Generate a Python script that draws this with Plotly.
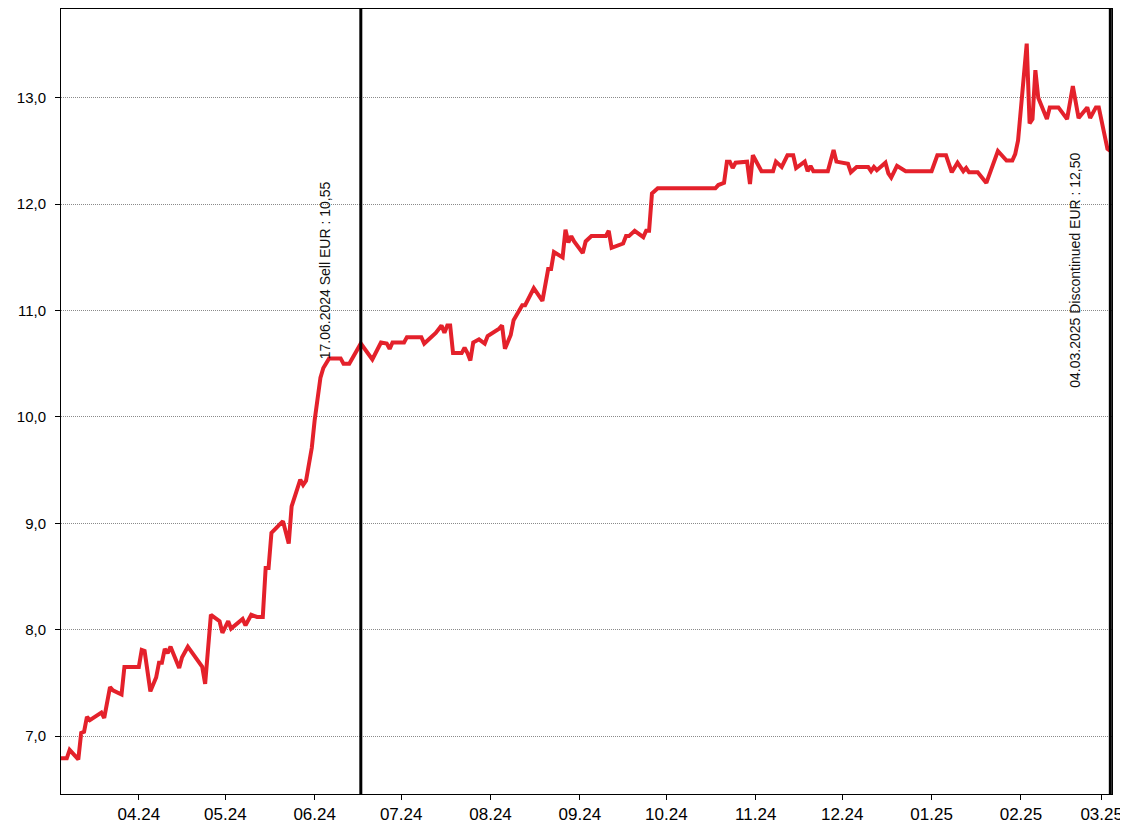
import plotly.graph_objects as go

dates = [
    "2024-03-05", "2024-03-07", "2024-03-08", "2024-03-09", "2024-03-11", "2024-03-12", "2024-03-13",
    "2024-03-14", "2024-03-15", "2024-03-19", "2024-03-20", "2024-03-22", "2024-03-23", "2024-03-26",
    "2024-03-27", "2024-04-01", "2024-04-02", "2024-04-03", "2024-04-05", "2024-04-07", "2024-04-08",
    "2024-04-09", "2024-04-10", "2024-04-11", "2024-04-12", "2024-04-15", "2024-04-16", "2024-04-18",
    "2024-04-23", "2024-04-24", "2024-04-26", "2024-04-29", "2024-04-30", "2024-05-02", "2024-05-03",
    "2024-05-07", "2024-05-08", "2024-05-10", "2024-05-12", "2024-05-14", "2024-05-15", "2024-05-16",
    "2024-05-17", "2024-05-21", "2024-05-23", "2024-05-24", "2024-05-26", "2024-05-27", "2024-05-28",
    "2024-05-29", "2024-05-31", "2024-06-01", "2024-06-03", "2024-06-04", "2024-06-06", "2024-06-10",
    "2024-06-11", "2024-06-13", "2024-06-17", "2024-06-18", "2024-06-21", "2024-06-24", "2024-06-26",
    "2024-06-27", "2024-06-28", "2024-07-02", "2024-07-03", "2024-07-08", "2024-07-09", "2024-07-11",
    "2024-07-13", "2024-07-15", "2024-07-16", "2024-07-17", "2024-07-18", "2024-07-19", "2024-07-22",
    "2024-07-23", "2024-07-24", "2024-07-25", "2024-07-26", "2024-07-28", "2024-07-30", "2024-07-31",
    "2024-08-02", "2024-08-04", "2024-08-05", "2024-08-06", "2024-08-08", "2024-08-09", "2024-08-12",
    "2024-08-13", "2024-08-16", "2024-08-19", "2024-08-21", "2024-08-22", "2024-08-23", "2024-08-26",
    "2024-08-27", "2024-08-28", "2024-08-29", "2024-08-30", "2024-09-02", "2024-09-03", "2024-09-05",
    "2024-09-10", "2024-09-11", "2024-09-12", "2024-09-16", "2024-09-17", "2024-09-18", "2024-09-20",
    "2024-09-23", "2024-09-24", "2024-09-25", "2024-09-26", "2024-09-28", "2024-10-18", "2024-10-19",
    "2024-10-21", "2024-10-22", "2024-10-23", "2024-10-24", "2024-10-25", "2024-10-29", "2024-10-30",
    "2024-10-31", "2024-11-03", "2024-11-07", "2024-11-08", "2024-11-10", "2024-11-12", "2024-11-14",
    "2024-11-15", "2024-11-18", "2024-11-19", "2024-11-20", "2024-11-21", "2024-11-26", "2024-11-28",
    "2024-11-29", "2024-12-03", "2024-12-04", "2024-12-06", "2024-12-10", "2024-12-11", "2024-12-12",
    "2024-12-13", "2024-12-16", "2024-12-17", "2024-12-18", "2024-12-20", "2024-12-23", "2025-01-01",
    "2025-01-03", "2025-01-06", "2025-01-08", "2025-01-10", "2025-01-12", "2025-01-13", "2025-01-14",
    "2025-01-17", "2025-01-20", "2025-01-24", "2025-01-27", "2025-01-29", "2025-01-30", "2025-01-31",
    "2025-02-03", "2025-02-04", "2025-02-05", "2025-02-06", "2025-02-07", "2025-02-10", "2025-02-11",
    "2025-02-14", "2025-02-17", "2025-02-19", "2025-02-21", "2025-02-24", "2025-02-25", "2025-02-27",
    "2025-02-28", "2025-03-03", "2025-03-04",
]

prices = [
    6.79, 6.79, 6.87, 6.84, 6.78, 7.03, 7.04,
    7.18, 7.15, 7.22, 7.17, 7.46, 7.43, 7.39,
    7.65, 7.65, 7.81, 7.80, 7.42, 7.55, 7.69,
    7.69, 7.82, 7.78, 7.84, 7.64, 7.74, 7.84,
    7.65, 7.49, 8.14, 8.08, 7.97, 8.08, 8.01,
    8.10, 8.04, 8.14, 8.12, 8.12, 8.58, 8.58,
    8.91, 9.02, 8.81, 9.16, 9.31, 9.41, 9.36,
    9.40, 9.71, 9.97, 10.37, 10.46, 10.55, 10.55,
    10.50, 10.50, 10.69, 10.65, 10.54, 10.70, 10.69,
    10.64, 10.70, 10.70, 10.75, 10.75, 10.69, 10.74,
    10.79, 10.86, 10.79, 10.86, 10.86, 10.60, 10.60,
    10.65, 10.60, 10.53, 10.70, 10.73, 10.69, 10.76,
    10.79, 10.83, 10.86, 10.64, 10.77, 10.91, 11.05,
    11.05, 11.21, 11.09, 11.39, 11.39, 11.55, 11.50,
    11.76, 11.64, 11.70, 11.65, 11.54, 11.65, 11.70,
    11.70, 11.75, 11.59, 11.63, 11.70, 11.70, 11.75,
    11.69, 11.75, 11.75, 12.10, 12.15, 12.15, 12.18,
    12.20, 12.40, 12.40, 12.34, 12.39, 12.40, 12.19,
    12.46, 12.31, 12.31, 12.40, 12.35, 12.46, 12.46,
    12.34, 12.40, 12.31, 12.36, 12.31, 12.31, 12.51,
    12.40, 12.38, 12.30, 12.35, 12.35, 12.31, 12.35,
    12.32, 12.39, 12.29, 12.25, 12.36, 12.31, 12.31,
    12.46, 12.46, 12.30, 12.39, 12.31, 12.34, 12.30,
    12.30, 12.20, 12.50, 12.41, 12.41, 12.47, 12.60,
    13.51, 12.76, 12.80, 13.26, 13.00, 12.80, 12.91,
    12.91, 12.80, 13.11, 12.81, 12.91, 12.81, 12.91,
    12.91, 12.52, 12.50,
]

tick_dates = ["2024-04-01", "2024-05-01", "2024-06-01", "2024-07-01", "2024-08-01", "2024-09-01",
              "2024-10-01", "2024-11-01", "2024-12-01", "2025-01-01", "2025-02-01", "2025-03-01"]
y_ticks = [7, 8, 9, 10, 11, 12, 13]

events = [
    ("2024-06-17", "17.06.2024 Sell EUR : 10,55"),
    ("2025-03-04", "04.03.2025 Discontinued EUR : 12,50"),
]

FONT = "Liberation Sans, Arial, sans-serif"

fig = go.Figure()
fig.add_trace(go.Scatter(
    x=dates, y=prices, mode="lines",
    line=dict(color="#E4212B", width=4),
    hoverinfo="x+y", showlegend=False,
))

for d, label in events:
    fig.add_shape(type="line", x0=d, x1=d, xref="x", y0=0, y1=1, yref="paper",
                  line=dict(color="black", width=3))
    fig.add_annotation(x=d, xref="x", y=0.667, yref="paper", text=label, textangle=-90,
                       showarrow=False, xshift=-35, xanchor="center", yanchor="middle",
                       font=dict(family=FONT, size=14, color="#111111"))

fig.update_layout(
    width=1120, height=819,
    margin=dict(l=53, r=16, t=1, b=33),
    paper_bgcolor="white", plot_bgcolor="white",
    separators=",.",
    font=dict(family=FONT, color="black"),
    xaxis=dict(
        range=["2024-03-05", "2025-03-04 14:00"],
        tickvals=tick_dates, tickformat="%m.%y",
        tickfont=dict(size=17, family=FONT, color="black"),
        ticks="outside", ticklen=5, tickwidth=1, tickcolor="black",
        ticklabeloverflow="allow", automargin=False,
        showline=True, linecolor="black", linewidth=1, mirror=True,
        showgrid=False, zeroline=False,
    ),
    yaxis=dict(
        range=[6.455, 13.835],
        tickvals=y_ticks, tickformat=".1f",
        tickfont=dict(size=15, family=FONT, color="black"),
        ticks="outside", ticklen=5, tickwidth=1, tickcolor="black",
        ticklabelstandoff=6, automargin=False,
        showline=True, linecolor="black", linewidth=1, mirror=True,
        showgrid=True, gridcolor="#8a8a8a", gridwidth=1, griddash="1px,1px",
        zeroline=False,
    ),
)

fig.write_html("out.html")
